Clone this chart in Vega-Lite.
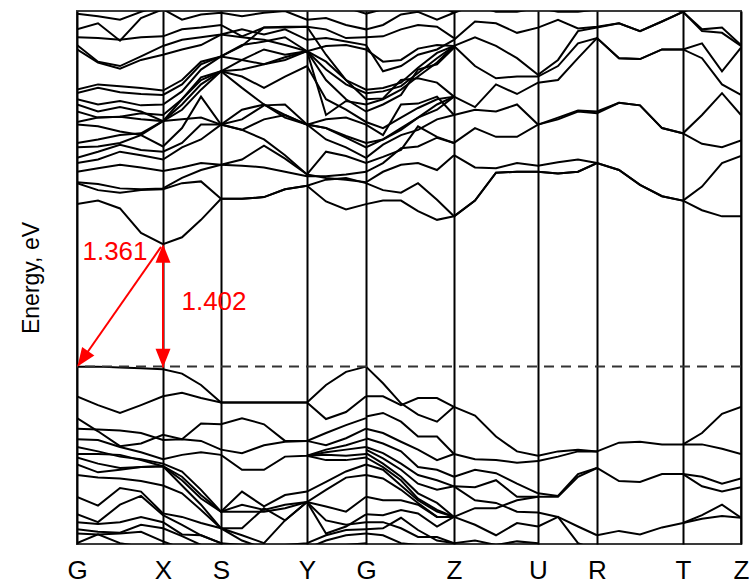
{
"$schema": "https://vega.github.io/schema/vega-lite/v6.json",
"width": 664, "height": 533,
"autosize": "none",
"padding": {"left": 77, "top": 11, "right": 8, "bottom": 42},
"background": "white",
"config": {"view": {"stroke": "#3a3a3a", "strokeWidth": 2}, "font": "Liberation Sans"},
"datasets": {"bands": [
{"b":"C1","k":0,"e":1.86},{"b":"C1","k":0.21,"e":1.9},{"b":"C1","k":0.43,"e":1.81},{"b":"C1","k":0.64,"e":1.53},{"b":"C1","k":0.86,"e":1.402},{"b":"C1","k":1.05,"e":1.48},{"b":"C1","k":1.24,"e":1.68},{"b":"C1","k":1.44,"e":1.92},{"b":"C1","k":1.65,"e":1.92},{"b":"C1","k":1.87,"e":1.94},{"b":"C1","k":2.08,"e":2.03},{"b":"C1","k":2.3,"e":2.07},{"b":"C1","k":2.49,"e":1.89},{"b":"C1","k":2.69,"e":1.8},{"b":"C1","k":2.89,"e":1.86},{"b":"C1","k":3.06,"e":1.9},{"b":"C1","k":3.24,"e":1.9},{"b":"C1","k":3.41,"e":1.78},{"b":"C1","k":3.6,"e":1.68},{"b":"C1","k":3.77,"e":1.72},
{"b":"C2","k":0,"e":2.1},{"b":"C2","k":0.21,"e":2.02},{"b":"C2","k":0.43,"e":1.99},{"b":"C2","k":0.64,"e":2.02},{"b":"C2","k":0.86,"e":2.03},{"b":"C2","k":1.05,"e":2.1},{"b":"C2","k":1.24,"e":2.12},{"b":"C2","k":1.44,"e":1.92},{"b":"C2","k":1.65,"e":1.92},{"b":"C2","k":1.87,"e":1.94},{"b":"C2","k":2.08,"e":2.03},{"b":"C2","k":2.3,"e":2.07},{"b":"C2","k":2.49,"e":2.14},{"b":"C2","k":2.69,"e":2.16},{"b":"C2","k":2.89,"e":2.1},{"b":"C2","k":3.06,"e":2.02},{"b":"C2","k":3.24,"e":1.99},{"b":"C2","k":3.41,"e":2.1},{"b":"C2","k":3.6,"e":1.91},{"b":"C2","k":3.77,"e":1.72},
{"b":"C3","k":0,"e":2.11},{"b":"C3","k":0.21,"e":2.09},{"b":"C3","k":0.43,"e":2.04},{"b":"C3","k":0.64,"e":2.03},{"b":"C3","k":0.86,"e":2.04},{"b":"C3","k":1.05,"e":2.16},{"b":"C3","k":1.24,"e":2.25},{"b":"C3","k":1.44,"e":2.31},{"b":"C3","k":1.65,"e":2.37},{"b":"C3","k":1.87,"e":2.53},{"b":"C3","k":2.08,"e":2.38},{"b":"C3","k":2.3,"e":2.2},{"b":"C3","k":2.49,"e":2.16},{"b":"C3","k":2.69,"e":2.14},{"b":"C3","k":2.89,"e":2.11},{"b":"C3","k":3.06,"e":2.23},{"b":"C3","k":3.24,"e":2.31},{"b":"C3","k":3.41,"e":2.33},{"b":"C3","k":3.6,"e":2.25},{"b":"C3","k":3.77,"e":2.42},
{"b":"C4","k":0,"e":2.23},{"b":"C4","k":0.21,"e":2.27},{"b":"C4","k":0.43,"e":2.31},{"b":"C4","k":0.64,"e":2.28},{"b":"C4","k":0.86,"e":2.24},{"b":"C4","k":1.05,"e":2.28},{"b":"C4","k":1.24,"e":2.33},{"b":"C4","k":1.44,"e":2.31},{"b":"C4","k":1.65,"e":2.3},{"b":"C4","k":1.87,"e":2.28},{"b":"C4","k":2.08,"e":2.23},{"b":"C4","k":2.3,"e":2.18},{"b":"C4","k":2.49,"e":2.18},{"b":"C4","k":2.69,"e":2.2},{"b":"C4","k":2.89,"e":2.23},{"b":"C4","k":3.06,"e":2.33},{"b":"C4","k":3.24,"e":2.5},{"b":"C4","k":3.41,"e":2.52},{"b":"C4","k":3.6,"e":2.62},{"b":"C4","k":3.77,"e":2.56},
{"b":"C5","k":0,"e":2.33},{"b":"C5","k":0.21,"e":2.37},{"b":"C5","k":0.43,"e":2.46},{"b":"C5","k":0.64,"e":2.42},{"b":"C5","k":0.86,"e":2.37},{"b":"C5","k":1.05,"e":2.51},{"b":"C5","k":1.24,"e":2.6},{"b":"C5","k":1.44,"e":2.77},{"b":"C5","k":1.65,"e":2.71},{"b":"C5","k":1.87,"e":2.6},{"b":"C5","k":2.08,"e":2.42},{"b":"C5","k":2.3,"e":2.2},{"b":"C5","k":2.49,"e":2.46},{"b":"C5","k":2.69,"e":2.41},{"b":"C5","k":2.89,"e":2.33},{"b":"C5","k":3.06,"e":2.4},{"b":"C5","k":3.24,"e":2.48},{"b":"C5","k":3.41,"e":2.75},{"b":"C5","k":3.6,"e":2.63},{"b":"C5","k":3.77,"e":2.56},
{"b":"C6","k":0,"e":2.39},{"b":"C6","k":0.21,"e":2.46},{"b":"C6","k":0.43,"e":2.54},{"b":"C6","k":0.64,"e":2.48},{"b":"C6","k":0.86,"e":2.46},{"b":"C6","k":1.05,"e":2.56},{"b":"C6","k":1.24,"e":2.77},{"b":"C6","k":1.44,"e":2.77},{"b":"C6","k":1.65,"e":2.83},{"b":"C6","k":1.87,"e":2.99},{"b":"C6","k":2.08,"e":3.0},{"b":"C6","k":2.3,"e":2.77},{"b":"C6","k":2.49,"e":2.6},{"b":"C6","k":2.69,"e":2.51},{"b":"C6","k":2.89,"e":2.39},{"b":"C6","k":3.06,"e":2.54},{"b":"C6","k":3.24,"e":2.65},{"b":"C6","k":3.41,"e":2.71},{"b":"C6","k":3.6,"e":2.83},{"b":"C6","k":3.77,"e":2.88},
{"b":"C7","k":0,"e":2.51},{"b":"C7","k":0.21,"e":2.52},{"b":"C7","k":0.43,"e":2.56},{"b":"C7","k":0.64,"e":2.65},{"b":"C7","k":0.86,"e":2.52},{"b":"C7","k":1.05,"e":2.73},{"b":"C7","k":1.24,"e":3.09},{"b":"C7","k":1.44,"e":2.77},{"b":"C7","k":1.65,"e":2.94},{"b":"C7","k":1.87,"e":3.0},{"b":"C7","k":2.08,"e":2.85},{"b":"C7","k":2.3,"e":2.77},{"b":"C7","k":2.49,"e":2.73},{"b":"C7","k":2.69,"e":2.62},{"b":"C7","k":2.89,"e":2.51},{"b":"C7","k":3.06,"e":2.6},{"b":"C7","k":3.24,"e":2.73},{"b":"C7","k":3.41,"e":2.85},{"b":"C7","k":3.6,"e":3.0},{"b":"C7","k":3.77,"e":3.09},
{"b":"C8","k":0,"e":2.56},{"b":"C8","k":0.21,"e":2.6},{"b":"C8","k":0.43,"e":2.65},{"b":"C8","k":0.64,"e":2.67},{"b":"C8","k":0.86,"e":2.81},{"b":"C8","k":1.05,"e":2.83},{"b":"C8","k":1.24,"e":2.85},{"b":"C8","k":1.44,"e":2.77},{"b":"C8","k":1.65,"e":2.71},{"b":"C8","k":1.87,"e":2.83},{"b":"C8","k":2.08,"e":2.88},{"b":"C8","k":2.3,"e":2.77},{"b":"C8","k":2.49,"e":2.73},{"b":"C8","k":2.69,"e":2.64},{"b":"C8","k":2.89,"e":2.56},{"b":"C8","k":3.06,"e":2.6},{"b":"C8","k":3.24,"e":2.71},{"b":"C8","k":3.41,"e":2.85},{"b":"C8","k":3.6,"e":2.94},{"b":"C8","k":3.77,"e":3.09},
{"b":"C9","k":0,"e":2.77},{"b":"C9","k":0.21,"e":2.75},{"b":"C9","k":0.43,"e":2.69},{"b":"C9","k":0.64,"e":2.65},{"b":"C9","k":0.86,"e":2.81},{"b":"C9","k":1.05,"e":2.94},{"b":"C9","k":1.24,"e":3.17},{"b":"C9","k":1.44,"e":3.38},{"b":"C9","k":1.65,"e":3.19},{"b":"C9","k":1.87,"e":3.0},{"b":"C9","k":2.08,"e":2.88},{"b":"C9","k":2.3,"e":2.77},{"b":"C9","k":2.49,"e":2.83},{"b":"C9","k":2.69,"e":2.85},{"b":"C9","k":2.89,"e":2.77},{"b":"C9","k":3.06,"e":2.65},{"b":"C9","k":3.24,"e":3.0},{"b":"C9","k":3.41,"e":3.01},{"b":"C9","k":3.6,"e":3.09},{"b":"C9","k":3.77,"e":2.88},
{"b":"C10","k":0,"e":2.8},{"b":"C10","k":0.21,"e":2.85},{"b":"C10","k":0.43,"e":2.86},{"b":"C10","k":0.64,"e":2.83},{"b":"C10","k":0.86,"e":2.81},{"b":"C10","k":1.05,"e":3.0},{"b":"C10","k":1.24,"e":3.23},{"b":"C10","k":1.44,"e":3.38},{"b":"C10","k":1.65,"e":3.32},{"b":"C10","k":1.87,"e":3.19},{"b":"C10","k":2.08,"e":3.32},{"b":"C10","k":2.3,"e":3.44},{"b":"C10","k":2.49,"e":3.06},{"b":"C10","k":2.69,"e":2.94},{"b":"C10","k":2.89,"e":2.8},{"b":"C10","k":3.06,"e":2.73},{"b":"C10","k":3.24,"e":2.85},{"b":"C10","k":3.41,"e":2.96},{"b":"C10","k":3.6,"e":3.06},{"b":"C10","k":3.77,"e":3.09},
{"b":"C11","k":0,"e":2.92},{"b":"C11","k":0.21,"e":2.85},{"b":"C11","k":0.43,"e":2.86},{"b":"C11","k":0.64,"e":2.9},{"b":"C11","k":0.86,"e":2.88},{"b":"C11","k":1.05,"e":3.06},{"b":"C11","k":1.24,"e":3.28},{"b":"C11","k":1.44,"e":3.38},{"b":"C11","k":1.65,"e":3.4},{"b":"C11","k":1.87,"e":3.46},{"b":"C11","k":2.08,"e":3.51},{"b":"C11","k":2.3,"e":3.61},{"b":"C11","k":2.49,"e":3.28},{"b":"C11","k":2.69,"e":3.06},{"b":"C11","k":2.89,"e":2.92},{"b":"C11","k":3.06,"e":3.0},{"b":"C11","k":3.24,"e":3.11},{"b":"C11","k":3.41,"e":3.4},{"b":"C11","k":3.6,"e":3.46},{"b":"C11","k":3.77,"e":3.65},
{"b":"C12","k":0,"e":3.0},{"b":"C12","k":0.21,"e":2.92},{"b":"C12","k":0.43,"e":2.97},{"b":"C12","k":0.64,"e":2.92},{"b":"C12","k":0.86,"e":2.81},{"b":"C12","k":1.05,"e":3.06},{"b":"C12","k":1.24,"e":3.31},{"b":"C12","k":1.44,"e":3.38},{"b":"C12","k":1.65,"e":3.51},{"b":"C12","k":1.87,"e":3.63},{"b":"C12","k":2.08,"e":3.57},{"b":"C12","k":2.3,"e":3.61},{"b":"C12","k":2.49,"e":2.88},{"b":"C12","k":2.69,"e":3.04},{"b":"C12","k":2.89,"e":3.0},{"b":"C12","k":3.06,"e":3.06},{"b":"C12","k":3.24,"e":3.17},{"b":"C12","k":3.41,"e":3.32},{"b":"C12","k":3.6,"e":3.48},{"b":"C12","k":3.77,"e":3.67},
{"b":"C13","k":0,"e":3.06},{"b":"C13","k":0.21,"e":3.0},{"b":"C13","k":0.43,"e":3.04},{"b":"C13","k":0.64,"e":2.99},{"b":"C13","k":0.86,"e":3.0},{"b":"C13","k":1.05,"e":3.15},{"b":"C13","k":1.24,"e":3.4},{"b":"C13","k":1.44,"e":3.55},{"b":"C13","k":1.65,"e":3.67},{"b":"C13","k":1.87,"e":3.88},{"b":"C13","k":2.08,"e":3.88},{"b":"C13","k":2.3,"e":3.89},{"b":"C13","k":2.49,"e":3.57},{"b":"C13","k":2.69,"e":3.28},{"b":"C13","k":2.89,"e":3.06},{"b":"C13","k":3.06,"e":3.07},{"b":"C13","k":3.24,"e":3.28},{"b":"C13","k":3.41,"e":3.3},{"b":"C13","k":3.6,"e":3.25},{"b":"C13","k":3.77,"e":3.09},
{"b":"C14","k":0,"e":3.13},{"b":"C14","k":0.21,"e":3.19},{"b":"C14","k":0.43,"e":3.14},{"b":"C14","k":0.64,"e":3.12},{"b":"C14","k":0.86,"e":3.11},{"b":"C14","k":1.05,"e":3.23},{"b":"C14","k":1.24,"e":3.46},{"b":"C14","k":1.44,"e":3.55},{"b":"C14","k":1.65,"e":3.68},{"b":"C14","k":1.87,"e":3.72},{"b":"C14","k":2.08,"e":3.77},{"b":"C14","k":2.3,"e":3.61},{"b":"C14","k":2.49,"e":3.4},{"b":"C14","k":2.69,"e":3.23},{"b":"C14","k":2.89,"e":3.13},{"b":"C14","k":3.06,"e":3.15},{"b":"C14","k":3.24,"e":3.21},{"b":"C14","k":3.41,"e":3.36},{"b":"C14","k":3.6,"e":3.53},{"b":"C14","k":3.77,"e":3.67},
{"b":"C15","k":0,"e":3.17},{"b":"C15","k":0.21,"e":3.23},{"b":"C15","k":0.43,"e":3.21},{"b":"C15","k":0.64,"e":3.19},{"b":"C15","k":0.86,"e":3.16},{"b":"C15","k":1.05,"e":3.28},{"b":"C15","k":1.24,"e":3.49},{"b":"C15","k":1.44,"e":3.55},{"b":"C15","k":1.65,"e":3.51},{"b":"C15","k":1.87,"e":3.46},{"b":"C15","k":2.08,"e":3.54},{"b":"C15","k":2.3,"e":3.61},{"b":"C15","k":2.49,"e":3.49},{"b":"C15","k":2.69,"e":3.28},{"b":"C15","k":2.89,"e":3.17},{"b":"C15","k":3.06,"e":3.19},{"b":"C15","k":3.24,"e":3.25},{"b":"C15","k":3.41,"e":3.42},{"b":"C15","k":3.6,"e":3.59},{"b":"C15","k":3.77,"e":3.67},
{"b":"C16","k":0,"e":3.63},{"b":"C16","k":0.21,"e":3.48},{"b":"C16","k":0.43,"e":3.41},{"b":"C16","k":0.64,"e":3.51},{"b":"C16","k":0.86,"e":3.57},{"b":"C16","k":1.05,"e":3.63},{"b":"C16","k":1.24,"e":3.68},{"b":"C16","k":1.44,"e":3.8},{"b":"C16","k":1.65,"e":3.77},{"b":"C16","k":1.87,"e":3.74},{"b":"C16","k":2.08,"e":3.68},{"b":"C16","k":2.3,"e":3.61},{"b":"C16","k":2.49,"e":3.67},{"b":"C16","k":2.69,"e":3.68},{"b":"C16","k":2.89,"e":3.63},{"b":"C16","k":3.06,"e":3.49},{"b":"C16","k":3.24,"e":3.51},{"b":"C16","k":3.41,"e":3.64},{"b":"C16","k":3.6,"e":3.68},{"b":"C16","k":3.77,"e":3.67},
{"b":"C17","k":0,"e":3.68},{"b":"C17","k":0.21,"e":3.49},{"b":"C17","k":0.43,"e":3.44},{"b":"C17","k":0.64,"e":3.55},{"b":"C17","k":0.86,"e":3.67},{"b":"C17","k":1.05,"e":3.74},{"b":"C17","k":1.24,"e":3.77},{"b":"C17","k":1.44,"e":3.8},{"b":"C17","k":1.65,"e":3.86},{"b":"C17","k":1.87,"e":3.8},{"b":"C17","k":2.08,"e":3.86},{"b":"C17","k":2.3,"e":3.74},{"b":"C17","k":2.49,"e":3.76},{"b":"C17","k":2.69,"e":3.72},{"b":"C17","k":2.89,"e":3.68},{"b":"C17","k":3.06,"e":3.38},{"b":"C17","k":3.24,"e":3.44},{"b":"C17","k":3.41,"e":3.57},{"b":"C17","k":3.6,"e":3.63},{"b":"C17","k":3.77,"e":3.74},
{"b":"C18","k":0,"e":3.77},{"b":"C18","k":0.21,"e":3.76},{"b":"C18","k":0.43,"e":3.74},{"b":"C18","k":0.64,"e":3.77},{"b":"C18","k":0.86,"e":3.78},{"b":"C18","k":1.05,"e":3.86},{"b":"C18","k":1.24,"e":3.88},{"b":"C18","k":1.44,"e":3.91},{"b":"C18","k":1.65,"e":3.78},{"b":"C18","k":1.87,"e":3.88},{"b":"C18","k":2.08,"e":3.89},{"b":"C18","k":2.3,"e":3.89},{"b":"C18","k":2.49,"e":3.86},{"b":"C18","k":2.69,"e":3.76},{"b":"C18","k":2.89,"e":3.77},{"b":"C18","k":3.06,"e":3.78},{"b":"C18","k":3.24,"e":3.86},{"b":"C18","k":3.41,"e":3.91},{"b":"C18","k":3.6,"e":3.89},{"b":"C18","k":3.77,"e":3.76},
{"b":"C19","k":0,"e":3.86},{"b":"C19","k":0.21,"e":3.93},{"b":"C19","k":0.43,"e":3.73},{"b":"C19","k":0.64,"e":3.99},{"b":"C19","k":0.86,"e":4.09},{"b":"C19","k":1.05,"e":3.97},{"b":"C19","k":1.24,"e":4.03},{"b":"C19","k":1.44,"e":4.05},{"b":"C19","k":1.65,"e":4.01},{"b":"C19","k":1.87,"e":4.05},{"b":"C19","k":2.08,"e":4.07},{"b":"C19","k":2.3,"e":3.97},{"b":"C19","k":2.49,"e":3.99},{"b":"C19","k":2.69,"e":3.91},{"b":"C19","k":2.89,"e":3.86},{"b":"C19","k":3.06,"e":3.91},{"b":"C19","k":3.24,"e":4.03},{"b":"C19","k":3.41,"e":4.06},{"b":"C19","k":3.6,"e":3.97},{"b":"C19","k":3.77,"e":4.05},
{"b":"C20","k":0,"e":4.04},{"b":"C20","k":0.21,"e":4.01},{"b":"C20","k":0.43,"e":3.97},{"b":"C20","k":0.64,"e":4.06},{"b":"C20","k":0.86,"e":4.14},{"b":"C20","k":1.05,"e":4.11},{"b":"C20","k":1.24,"e":4.14},{"b":"C20","k":1.44,"e":4.11},{"b":"C20","k":1.65,"e":4.14},{"b":"C20","k":1.87,"e":4.11},{"b":"C20","k":2.08,"e":4.09},{"b":"C20","k":2.3,"e":4.11},{"b":"C20","k":2.49,"e":4.14},{"b":"C20","k":2.69,"e":4.11},{"b":"C20","k":2.89,"e":4.04},{"b":"C20","k":3.06,"e":4.09},{"b":"C20","k":3.24,"e":4.14},{"b":"C20","k":3.41,"e":4.17},{"b":"C20","k":3.6,"e":4.14},{"b":"C20","k":3.77,"e":4.05},
{"b":"R1","k":3.77,"e":1.72},{"b":"R1","k":3.98,"e":1.9},{"b":"R1","k":4.19,"e":2.22},{"b":"R1","k":4.4,"e":2.23},{"b":"R1","k":4.61,"e":2.23},{"b":"R1","k":4.81,"e":2.21},{"b":"R1","k":5.01,"e":2.23},{"b":"R1","k":5.2,"e":2.33},{"b":"R1","k":5.42,"e":2.25},{"b":"R1","k":5.63,"e":2.08},{"b":"R1","k":5.85,"e":1.95},{"b":"R1","k":6.06,"e":1.9},{"b":"R1","k":6.25,"e":1.79},{"b":"R1","k":6.45,"e":1.72},{"b":"R1","k":6.64,"e":1.72},
{"b":"R2","k":3.77,"e":1.72},{"b":"R2","k":3.98,"e":1.9},{"b":"R2","k":4.19,"e":2.22},{"b":"R2","k":4.4,"e":2.23},{"b":"R2","k":4.61,"e":2.23},{"b":"R2","k":4.81,"e":2.21},{"b":"R2","k":5.01,"e":2.23},{"b":"R2","k":5.2,"e":2.33},{"b":"R2","k":5.42,"e":2.25},{"b":"R2","k":5.63,"e":2.08},{"b":"R2","k":5.85,"e":1.95},{"b":"R2","k":6.06,"e":1.9},{"b":"R2","k":6.25,"e":2.06},{"b":"R2","k":6.45,"e":2.33},{"b":"R2","k":6.64,"e":2.41},
{"b":"R3","k":3.77,"e":2.42},{"b":"R3","k":3.98,"e":2.28},{"b":"R3","k":4.19,"e":2.27},{"b":"R3","k":4.4,"e":2.33},{"b":"R3","k":4.61,"e":2.3},{"b":"R3","k":4.81,"e":2.34},{"b":"R3","k":5.01,"e":2.37},{"b":"R3","k":5.2,"e":2.33},
{"b":"R4","k":3.77,"e":2.56},{"b":"R4","k":3.98,"e":2.73},{"b":"R4","k":4.19,"e":2.63},{"b":"R4","k":4.4,"e":2.63},{"b":"R4","k":4.61,"e":2.77},{"b":"R4","k":4.81,"e":2.83},{"b":"R4","k":5.01,"e":2.92},{"b":"R4","k":5.2,"e":2.9},{"b":"R4","k":5.42,"e":3.02},{"b":"R4","k":5.63,"e":2.99},{"b":"R4","k":5.85,"e":2.73},{"b":"R4","k":6.06,"e":2.67},{"b":"R4","k":6.25,"e":2.55},{"b":"R4","k":6.45,"e":2.51},{"b":"R4","k":6.64,"e":2.59},
{"b":"R5","k":3.77,"e":2.88},{"b":"R5","k":3.98,"e":2.94},{"b":"R5","k":4.19,"e":2.92},{"b":"R5","k":4.4,"e":3.0},{"b":"R5","k":4.61,"e":2.77},{"b":"R5","k":4.81,"e":2.85},{"b":"R5","k":5.01,"e":2.93},{"b":"R5","k":5.2,"e":2.92},{"b":"R5","k":5.42,"e":3.02},{"b":"R5","k":5.63,"e":2.99},{"b":"R5","k":5.85,"e":2.73},{"b":"R5","k":6.06,"e":2.67},{"b":"R5","k":6.25,"e":2.88},{"b":"R5","k":6.45,"e":3.13},{"b":"R5","k":6.64,"e":2.88},
{"b":"R6","k":3.77,"e":3.09},{"b":"R6","k":3.98,"e":2.97},{"b":"R6","k":4.19,"e":3.23},{"b":"R6","k":4.4,"e":3.12},{"b":"R6","k":4.61,"e":3.25},{"b":"R6","k":4.81,"e":3.28},{"b":"R6","k":5.01,"e":3.53},{"b":"R6","k":5.2,"e":3.76},{"b":"R6","k":5.42,"e":3.53},{"b":"R6","k":5.63,"e":3.52},{"b":"R6","k":5.85,"e":3.63},{"b":"R6","k":6.06,"e":3.63},{"b":"R6","k":6.25,"e":3.53},{"b":"R6","k":6.45,"e":3.23},{"b":"R6","k":6.64,"e":3.11},
{"b":"R7","k":3.77,"e":3.67},{"b":"R7","k":3.98,"e":3.44},{"b":"R7","k":4.19,"e":3.3},{"b":"R7","k":4.4,"e":3.32},{"b":"R7","k":4.61,"e":3.32},{"b":"R7","k":4.81,"e":3.44},{"b":"R7","k":5.01,"e":3.7},{"b":"R7","k":5.2,"e":3.76},{"b":"R7","k":5.42,"e":3.53},{"b":"R7","k":5.63,"e":3.52},{"b":"R7","k":5.85,"e":3.63},{"b":"R7","k":6.06,"e":3.63},{"b":"R7","k":6.25,"e":3.7},{"b":"R7","k":6.45,"e":3.38},{"b":"R7","k":6.64,"e":3.65},
{"b":"R8","k":3.77,"e":3.67},{"b":"R8","k":3.98,"e":3.77},{"b":"R8","k":4.19,"e":3.67},{"b":"R8","k":4.4,"e":3.53},{"b":"R8","k":4.61,"e":3.34},{"b":"R8","k":4.81,"e":3.51},{"b":"R8","k":5.01,"e":3.84},{"b":"R8","k":5.2,"e":3.88},{"b":"R8","k":5.42,"e":3.93},{"b":"R8","k":5.63,"e":3.84},{"b":"R8","k":5.85,"e":3.95},{"b":"R8","k":6.06,"e":4.06},{"b":"R8","k":6.25,"e":3.86},{"b":"R8","k":6.45,"e":3.88},{"b":"R8","k":6.64,"e":3.68},
{"b":"R9","k":3.77,"e":3.74},{"b":"R9","k":3.98,"e":3.95},{"b":"R9","k":4.19,"e":3.93},{"b":"R9","k":4.4,"e":3.82},{"b":"R9","k":4.61,"e":3.88},{"b":"R9","k":4.81,"e":3.97},{"b":"R9","k":5.01,"e":3.87},{"b":"R9","k":5.2,"e":3.89},{"b":"R9","k":5.42,"e":3.93},{"b":"R9","k":5.63,"e":3.84},{"b":"R9","k":5.85,"e":3.95},{"b":"R9","k":6.06,"e":4.06},{"b":"R9","k":6.25,"e":3.84},{"b":"R9","k":6.45,"e":3.82},{"b":"R9","k":6.64,"e":3.67},
{"b":"R10","k":3.77,"e":4.05},{"b":"R10","k":3.98,"e":4.14},{"b":"R10","k":4.19,"e":4.06},{"b":"R10","k":4.4,"e":4.06},{"b":"R10","k":4.61,"e":4.11},{"b":"R10","k":4.81,"e":4.06},{"b":"R10","k":5.01,"e":4.06},{"b":"R10","k":5.2,"e":4.09},{"b":"R10","k":5.42,"e":4.14},{"b":"R10","k":5.63,"e":4.17},{"b":"R10","k":5.85,"e":4.14},{"b":"R10","k":6.06,"e":4.06},{"b":"R10","k":6.25,"e":4.14},{"b":"R10","k":6.45,"e":4.17},{"b":"R10","k":6.64,"e":4.2},
{"b":"V1","k":0,"e":0},{"b":"V1","k":0.21,"e":0},{"b":"V1","k":0.43,"e":-0.01},{"b":"V1","k":0.64,"e":-0.02},{"b":"V1","k":0.86,"e":-0.03},{"b":"V1","k":1.05,"e":-0.08},{"b":"V1","k":1.24,"e":-0.21},{"b":"V1","k":1.44,"e":-0.41},{"b":"V1","k":1.65,"e":-0.41},{"b":"V1","k":1.87,"e":-0.41},{"b":"V1","k":2.08,"e":-0.41},{"b":"V1","k":2.3,"e":-0.41},{"b":"V1","k":2.49,"e":-0.21},{"b":"V1","k":2.69,"e":-0.06},{"b":"V1","k":2.89,"e":0},
{"b":"V2","k":0,"e":-0.34},{"b":"V2","k":0.21,"e":-0.44},{"b":"V2","k":0.43,"e":-0.53},{"b":"V2","k":0.64,"e":-0.44},{"b":"V2","k":0.86,"e":-0.34},{"b":"V2","k":1.05,"e":-0.3},{"b":"V2","k":1.24,"e":-0.36},{"b":"V2","k":1.44,"e":-0.41},{"b":"V2","k":2.3,"e":-0.41},{"b":"V2","k":2.49,"e":-0.6},{"b":"V2","k":2.69,"e":-0.52},{"b":"V2","k":2.89,"e":-0.34},
{"b":"V3","k":0,"e":-0.59},{"b":"V3","k":0.21,"e":-0.74},{"b":"V3","k":0.43,"e":-0.91},{"b":"V3","k":0.64,"e":-0.88},{"b":"V3","k":0.86,"e":-0.78},{"b":"V3","k":1.05,"e":-0.83},{"b":"V3","k":1.24,"e":-0.65},{"b":"V3","k":1.44,"e":-0.66},{"b":"V3","k":1.65,"e":-0.59},{"b":"V3","k":1.87,"e":-0.66},{"b":"V3","k":2.08,"e":-0.85},{"b":"V3","k":2.3,"e":-0.85},{"b":"V3","k":2.49,"e":-0.76},{"b":"V3","k":2.69,"e":-0.67},{"b":"V3","k":2.89,"e":-0.59},
{"b":"V4","k":0,"e":-0.71},{"b":"V4","k":0.21,"e":-0.72},{"b":"V4","k":0.43,"e":-0.73},{"b":"V4","k":0.64,"e":-0.76},{"b":"V4","k":0.86,"e":-0.84},{"b":"V4","k":1.05,"e":-0.83},{"b":"V4","k":1.24,"e":-0.85},{"b":"V4","k":1.44,"e":-0.95},{"b":"V4","k":1.65,"e":-0.99},{"b":"V4","k":1.87,"e":-0.9},{"b":"V4","k":2.08,"e":-0.86},{"b":"V4","k":2.3,"e":-0.85},{"b":"V4","k":2.49,"e":-0.9},{"b":"V4","k":2.69,"e":-0.82},{"b":"V4","k":2.89,"e":-0.71},
{"b":"V5","k":0,"e":-0.83},{"b":"V5","k":0.21,"e":-0.84},{"b":"V5","k":0.43,"e":-0.92},{"b":"V5","k":0.64,"e":-0.98},{"b":"V5","k":0.86,"e":-1.06},{"b":"V5","k":1.05,"e":-1.01},{"b":"V5","k":1.24,"e":-0.98},{"b":"V5","k":1.44,"e":-1.01},{"b":"V5","k":1.65,"e":-1.18},{"b":"V5","k":1.87,"e":-1.18},{"b":"V5","k":2.08,"e":-1.03},{"b":"V5","k":2.3,"e":-1.02},{"b":"V5","k":2.49,"e":-0.95},{"b":"V5","k":2.69,"e":-0.9},{"b":"V5","k":2.89,"e":-0.83},
{"b":"V6","k":0,"e":-0.92},{"b":"V6","k":0.21,"e":-0.97},{"b":"V6","k":0.43,"e":-1.03},{"b":"V6","k":0.64,"e":-1.06},{"b":"V6","k":0.86,"e":-1.11},{"b":"V6","k":1.05,"e":-1.2},{"b":"V6","k":1.24,"e":-1.41},{"b":"V6","k":1.44,"e":-1.66},{"b":"V6","k":1.65,"e":-1.43},{"b":"V6","k":1.87,"e":-1.6},{"b":"V6","k":2.08,"e":-1.47},{"b":"V6","k":2.3,"e":-1.43},{"b":"V6","k":2.49,"e":-1.32},{"b":"V6","k":2.69,"e":-1.2},{"b":"V6","k":2.89,"e":-1.12},
{"b":"V7","k":0,"e":-1.0},{"b":"V7","k":0.21,"e":-1.0},{"b":"V7","k":0.43,"e":-1.01},{"b":"V7","k":0.64,"e":-1.07},{"b":"V7","k":0.86,"e":-1.14},{"b":"V7","k":1.05,"e":-1.26},{"b":"V7","k":1.24,"e":-1.47},{"b":"V7","k":1.44,"e":-1.66},{"b":"V7","k":1.65,"e":-1.58},{"b":"V7","k":1.87,"e":-1.64},{"b":"V7","k":2.08,"e":-1.58},{"b":"V7","k":2.3,"e":-1.55},{"b":"V7","k":2.49,"e":-1.41},{"b":"V7","k":2.69,"e":-1.27},{"b":"V7","k":2.89,"e":-1.24},
{"b":"V8","k":0,"e":-1.04},{"b":"V8","k":0.21,"e":-1.11},{"b":"V8","k":0.43,"e":-1.16},{"b":"V8","k":0.64,"e":-1.15},{"b":"V8","k":0.86,"e":-1.14},{"b":"V8","k":1.05,"e":-1.3},{"b":"V8","k":1.24,"e":-1.51},{"b":"V8","k":1.44,"e":-1.66},{"b":"V8","k":1.65,"e":-1.66},{"b":"V8","k":1.87,"e":-1.66},{"b":"V8","k":2.08,"e":-1.62},{"b":"V8","k":2.3,"e":-1.55},{"b":"V8","k":2.49,"e":-1.6},{"b":"V8","k":2.69,"e":-1.66},{"b":"V8","k":2.89,"e":-1.49},
{"b":"V9","k":0,"e":-1.12},{"b":"V9","k":0.21,"e":-1.21},{"b":"V9","k":0.43,"e":-1.18},{"b":"V9","k":0.64,"e":-1.15},{"b":"V9","k":0.86,"e":-1.14},{"b":"V9","k":1.05,"e":-1.36},{"b":"V9","k":1.24,"e":-1.58},{"b":"V9","k":1.44,"e":-1.85},{"b":"V9","k":1.65,"e":-1.85},{"b":"V9","k":1.87,"e":-1.62},{"b":"V9","k":2.08,"e":-1.76},{"b":"V9","k":2.3,"e":-1.55},{"b":"V9","k":2.49,"e":-1.91},{"b":"V9","k":2.69,"e":-1.83},{"b":"V9","k":2.89,"e":-1.69},
{"b":"V10","k":0,"e":-1.24},{"b":"V10","k":0.21,"e":-1.27},{"b":"V10","k":0.43,"e":-1.28},{"b":"V10","k":0.64,"e":-1.31},{"b":"V10","k":0.86,"e":-1.36},{"b":"V10","k":1.05,"e":-1.45},{"b":"V10","k":1.24,"e":-1.64},{"b":"V10","k":1.44,"e":-1.85},{"b":"V10","k":1.65,"e":-1.93},{"b":"V10","k":1.87,"e":-2.02},{"b":"V10","k":2.08,"e":-1.76},{"b":"V10","k":2.3,"e":-1.55},{"b":"V10","k":2.49,"e":-1.76},{"b":"V10","k":2.69,"e":-1.81},{"b":"V10","k":2.89,"e":-1.78},
{"b":"V11","k":0,"e":-1.49},{"b":"V11","k":0.21,"e":-1.59},{"b":"V11","k":0.43,"e":-1.39},{"b":"V11","k":0.64,"e":-1.43},{"b":"V11","k":0.86,"e":-1.68},{"b":"V11","k":1.05,"e":-1.72},{"b":"V11","k":1.24,"e":-1.79},{"b":"V11","k":1.44,"e":-1.85},{"b":"V11","k":1.65,"e":-1.99},{"b":"V11","k":1.87,"e":-2.08},{"b":"V11","k":2.08,"e":-2.04},{"b":"V11","k":2.3,"e":-2.02},{"b":"V11","k":2.49,"e":-1.93},{"b":"V11","k":2.69,"e":-1.87},{"b":"V11","k":2.89,"e":-1.86},
{"b":"V12","k":0,"e":-1.69},{"b":"V12","k":0.21,"e":-1.78},{"b":"V12","k":0.43,"e":-1.58},{"b":"V12","k":0.64,"e":-1.48},{"b":"V12","k":0.86,"e":-1.7},{"b":"V12","k":1.05,"e":-1.81},{"b":"V12","k":1.24,"e":-1.93},{"b":"V12","k":1.44,"e":-2.02},{"b":"V12","k":1.65,"e":-2.04},{"b":"V12","k":1.87,"e":-2.1},{"b":"V12","k":2.08,"e":-2.08},{"b":"V12","k":2.3,"e":-2.08},{"b":"V12","k":2.49,"e":-1.99},{"b":"V12","k":2.69,"e":-1.93},{"b":"V12","k":2.89,"e":-1.91},
{"b":"V13","k":0,"e":-1.78},{"b":"V13","k":0.21,"e":-1.8},{"b":"V13","k":0.43,"e":-1.78},{"b":"V13","k":0.64,"e":-1.72},{"b":"V13","k":0.86,"e":-1.78},{"b":"V13","k":1.05,"e":-1.92},{"b":"V13","k":1.24,"e":-1.93},{"b":"V13","k":1.44,"e":-2.02},{"b":"V13","k":1.65,"e":-2.1},{"b":"V13","k":1.87,"e":-2.16},{"b":"V13","k":2.08,"e":-2.12},{"b":"V13","k":2.3,"e":-2.12},{"b":"V13","k":2.49,"e":-2.08},{"b":"V13","k":2.69,"e":-2.04},{"b":"V13","k":2.89,"e":-2.02},
{"b":"V14","k":0,"e":-1.86},{"b":"V14","k":0.21,"e":-1.89},{"b":"V14","k":0.43,"e":-1.9},{"b":"V14","k":0.64,"e":-1.81},{"b":"V14","k":0.86,"e":-1.85},{"b":"V14","k":1.05,"e":-1.94},{"b":"V14","k":1.24,"e":-2.04},{"b":"V14","k":1.44,"e":-2.1},{"b":"V14","k":1.65,"e":-2.16},{"b":"V14","k":1.87,"e":-2.21},{"b":"V14","k":2.08,"e":-2.17},{"b":"V14","k":2.3,"e":-2.17},{"b":"V14","k":2.49,"e":-2.16},{"b":"V14","k":2.69,"e":-2.12},{"b":"V14","k":2.89,"e":-2.1},
{"b":"V15","k":0,"e":-1.91},{"b":"V15","k":0.21,"e":-1.92},{"b":"V15","k":0.43,"e":-1.91},{"b":"V15","k":0.64,"e":-1.89},{"b":"V15","k":0.86,"e":-2.0},{"b":"V15","k":1.05,"e":-2.08},{"b":"V15","k":1.24,"e":-2.1},{"b":"V15","k":1.44,"e":-2.16},{"b":"V15","k":2.89,"e":-2.16},
{"b":"V16","k":0,"e":-2.02},{"b":"V16","k":0.21,"e":-1.92},{"b":"V16","k":0.43,"e":-2.02},{"b":"V16","k":0.64,"e":-2.06},{"b":"V16","k":0.86,"e":-2.1},
{"b":"V17","k":2.3,"e":-1.02},{"b":"V17","k":2.49,"e":-0.98},{"b":"V17","k":2.69,"e":-0.95},{"b":"V17","k":2.89,"e":-0.92},
{"b":"V18","k":2.3,"e":-1.02},{"b":"V18","k":2.49,"e":-1.01},{"b":"V18","k":2.69,"e":-1.02},{"b":"V18","k":2.89,"e":-1.0},
{"b":"V19","k":2.3,"e":-1.02},{"b":"V19","k":2.49,"e":-1.07},{"b":"V19","k":2.69,"e":-1.07},{"b":"V19","k":2.89,"e":-1.04},
{"b":"W1","k":2.89,"e":0},{"b":"W1","k":3.06,"e":-0.19},{"b":"W1","k":3.24,"e":-0.42},{"b":"W1","k":3.41,"e":-0.55},{"b":"W1","k":3.6,"e":-0.63},{"b":"W1","k":3.77,"e":-0.46},
{"b":"W2","k":2.89,"e":-0.34},{"b":"W2","k":3.06,"e":-0.34},{"b":"W2","k":3.24,"e":-0.44},{"b":"W2","k":3.41,"e":-0.36},{"b":"W2","k":3.6,"e":-0.36},{"b":"W2","k":3.77,"e":-0.46},
{"b":"W3","k":2.89,"e":-0.57},{"b":"W3","k":3.06,"e":-0.53},{"b":"W3","k":3.24,"e":-0.63},{"b":"W3","k":3.41,"e":-0.8},{"b":"W3","k":3.6,"e":-0.8},{"b":"W3","k":3.77,"e":-1.0},
{"b":"W4","k":2.89,"e":-0.71},{"b":"W4","k":3.06,"e":-0.76},{"b":"W4","k":3.24,"e":-0.86},{"b":"W4","k":3.41,"e":-0.95},{"b":"W4","k":3.6,"e":-1.07},{"b":"W4","k":3.77,"e":-1.0},
{"b":"W5","k":2.89,"e":-0.82},{"b":"W5","k":3.06,"e":-0.88},{"b":"W5","k":3.24,"e":-0.97},{"b":"W5","k":3.41,"e":-1.15},{"b":"W5","k":3.6,"e":-1.18},{"b":"W5","k":3.77,"e":-1.26},
{"b":"W6","k":2.89,"e":-0.92},{"b":"W6","k":3.06,"e":-0.99},{"b":"W6","k":3.24,"e":-1.11},{"b":"W6","k":3.41,"e":-1.24},{"b":"W6","k":3.6,"e":-1.3},{"b":"W6","k":3.77,"e":-1.37},
{"b":"W7","k":2.89,"e":-0.95},{"b":"W7","k":3.06,"e":-1.05},{"b":"W7","k":3.24,"e":-1.18},{"b":"W7","k":3.41,"e":-1.34},{"b":"W7","k":3.6,"e":-1.41},{"b":"W7","k":3.77,"e":-1.37},
{"b":"W8","k":2.89,"e":-0.99},{"b":"W8","k":3.06,"e":-1.11},{"b":"W8","k":3.24,"e":-1.26},{"b":"W8","k":3.41,"e":-1.45},{"b":"W8","k":3.6,"e":-1.56},{"b":"W8","k":3.77,"e":-1.72},
{"b":"W9","k":2.89,"e":-1.04},{"b":"W9","k":3.06,"e":-1.15},{"b":"W9","k":3.24,"e":-1.3},{"b":"W9","k":3.41,"e":-1.51},{"b":"W9","k":3.6,"e":-1.64},{"b":"W9","k":3.77,"e":-1.72},
{"b":"W10","k":2.89,"e":-1.12},{"b":"W10","k":3.06,"e":-1.18},{"b":"W10","k":3.24,"e":-1.36},{"b":"W10","k":3.41,"e":-1.53},{"b":"W10","k":3.6,"e":-1.66},{"b":"W10","k":3.77,"e":-1.72},
{"b":"W11","k":2.89,"e":-1.24},{"b":"W11","k":3.06,"e":-1.28},{"b":"W11","k":3.24,"e":-1.41},{"b":"W11","k":3.41,"e":-1.56},{"b":"W11","k":3.6,"e":-1.72},{"b":"W11","k":3.77,"e":-1.72},
{"b":"W12","k":2.89,"e":-1.49},{"b":"W12","k":3.06,"e":-1.53},{"b":"W12","k":3.24,"e":-1.53},{"b":"W12","k":3.41,"e":-1.58},{"b":"W12","k":3.6,"e":-1.72},{"b":"W12","k":3.77,"e":-1.72},
{"b":"W13","k":2.89,"e":-1.69},{"b":"W13","k":3.06,"e":-1.7},{"b":"W13","k":3.24,"e":-1.64},{"b":"W13","k":3.41,"e":-1.68},{"b":"W13","k":3.6,"e":-1.83},{"b":"W13","k":3.77,"e":-1.72},
{"b":"W14","k":2.89,"e":-1.78},{"b":"W14","k":3.06,"e":-1.78},{"b":"W14","k":3.24,"e":-1.85},{"b":"W14","k":3.41,"e":-1.95},{"b":"W14","k":3.6,"e":-1.95},{"b":"W14","k":3.77,"e":-2.02},
{"b":"W15","k":2.89,"e":-1.86},{"b":"W15","k":3.06,"e":-1.85},{"b":"W15","k":3.24,"e":-1.73},{"b":"W15","k":3.41,"e":-1.87},{"b":"W15","k":3.6,"e":-1.99},{"b":"W15","k":3.77,"e":-2.02},
{"b":"W16","k":2.89,"e":-1.91},{"b":"W16","k":3.06,"e":-1.93},{"b":"W16","k":3.24,"e":-2.02},{"b":"W16","k":3.41,"e":-2.04},{"b":"W16","k":3.6,"e":-2.08},{"b":"W16","k":3.77,"e":-2.1},
{"b":"X1","k":3.77,"e":-0.46},{"b":"X1","k":3.98,"e":-0.56},{"b":"X1","k":4.19,"e":-0.8},{"b":"X1","k":4.4,"e":-0.97},{"b":"X1","k":4.61,"e":-1.02},
{"b":"X2","k":3.77,"e":-1.0},{"b":"X2","k":3.98,"e":-1.06},{"b":"X2","k":4.19,"e":-1.07},{"b":"X2","k":4.4,"e":-1.1},{"b":"X2","k":4.61,"e":-1.08},
{"b":"X3","k":3.77,"e":-1.26},{"b":"X3","k":3.98,"e":-1.18},{"b":"X3","k":4.19,"e":-1.22},{"b":"X3","k":4.4,"e":-1.34},{"b":"X3","k":4.61,"e":-1.45},
{"b":"X4","k":3.77,"e":-1.37},{"b":"X4","k":3.98,"e":-1.38},{"b":"X4","k":4.19,"e":-1.3},{"b":"X4","k":4.4,"e":-1.49},{"b":"X4","k":4.61,"e":-1.49},
{"b":"X5","k":3.77,"e":-1.72},{"b":"X5","k":3.98,"e":-1.62},{"b":"X5","k":4.19,"e":-1.62},{"b":"X5","k":4.4,"e":-1.53},{"b":"X5","k":4.61,"e":-1.49},
{"b":"X6","k":3.77,"e":-1.72},{"b":"X6","k":3.98,"e":-1.81},{"b":"X6","k":4.19,"e":-1.93},{"b":"X6","k":4.4,"e":-1.79},{"b":"X6","k":4.61,"e":-1.83},
{"b":"X7","k":3.77,"e":-1.37},{"b":"X7","k":3.98,"e":-1.53},{"b":"X7","k":4.19,"e":-1.56},{"b":"X7","k":4.4,"e":-1.66},{"b":"X7","k":4.61,"e":-1.67},
{"b":"X8","k":3.77,"e":-2.02},{"b":"X8","k":3.98,"e":-1.99},{"b":"X8","k":4.19,"e":-2.04},{"b":"X8","k":4.4,"e":-2.0},{"b":"X8","k":4.61,"e":-2.02},
{"b":"Y1","k":4.61,"e":-1.02},{"b":"Y1","k":4.81,"e":-0.97},{"b":"Y1","k":5.01,"e":-0.95},{"b":"Y1","k":5.2,"e":-0.97},
{"b":"Y2","k":4.61,"e":-1.08},{"b":"Y2","k":4.81,"e":-1.03},{"b":"Y2","k":5.01,"e":-0.97},{"b":"Y2","k":5.2,"e":-0.97},
{"b":"Y3","k":4.61,"e":-1.45},{"b":"Y3","k":4.81,"e":-1.48},{"b":"Y3","k":5.01,"e":-1.23},{"b":"Y3","k":5.2,"e":-1.16},
{"b":"Y4","k":4.61,"e":-1.49},{"b":"Y4","k":4.81,"e":-1.49},{"b":"Y4","k":5.01,"e":-1.26},{"b":"Y4","k":5.2,"e":-1.16},
{"b":"Y5","k":4.61,"e":-1.67},{"b":"Y5","k":4.81,"e":-1.72},{"b":"Y5","k":5.01,"e":-1.83},{"b":"Y5","k":5.2,"e":-1.93},
{"b":"Y6","k":4.61,"e":-1.83},{"b":"Y6","k":4.81,"e":-1.72},{"b":"Y6","k":5.01,"e":-2.02},{"b":"Y6","k":5.2,"e":-2.1},
{"b":"Z1","k":5.2,"e":-0.97},{"b":"Z1","k":5.42,"e":-0.87},{"b":"Z1","k":5.63,"e":-0.86},{"b":"Z1","k":5.85,"e":-0.89},{"b":"Z1","k":6.06,"e":-0.89},
{"b":"Z2","k":5.2,"e":-1.16},{"b":"Z2","k":5.42,"e":-1.31},{"b":"Z2","k":5.63,"e":-1.32},{"b":"Z2","k":5.85,"e":-1.23},{"b":"Z2","k":6.06,"e":-1.23},
{"b":"Z3","k":5.2,"e":-1.93},{"b":"Z3","k":5.42,"e":-1.88},{"b":"Z3","k":5.63,"e":-1.92},{"b":"Z3","k":5.85,"e":-1.84},{"b":"Z3","k":6.06,"e":-1.79},
{"b":"T1","k":6.06,"e":-0.89},{"b":"T1","k":6.25,"e":-0.76},{"b":"T1","k":6.45,"e":-0.54},{"b":"T1","k":6.64,"e":-0.46},
{"b":"T2","k":6.06,"e":-0.89},{"b":"T2","k":6.25,"e":-0.89},{"b":"T2","k":6.45,"e":-0.94},{"b":"T2","k":6.64,"e":-1.0},
{"b":"T3","k":6.06,"e":-1.23},{"b":"T3","k":6.25,"e":-1.26},{"b":"T3","k":6.45,"e":-1.34},{"b":"T3","k":6.64,"e":-1.28},
{"b":"T4","k":6.06,"e":-1.23},{"b":"T4","k":6.25,"e":-1.37},{"b":"T4","k":6.45,"e":-1.43},{"b":"T4","k":6.64,"e":-1.38},
{"b":"T5","k":6.06,"e":-1.79},{"b":"T5","k":6.25,"e":-1.7},{"b":"T5","k":6.45,"e":-1.58},{"b":"T5","k":6.64,"e":-1.73},
{"b":"T6","k":6.06,"e":-1.79},{"b":"T6","k":6.25,"e":-1.74},{"b":"T6","k":6.45,"e":-1.71},{"b":"T6","k":6.64,"e":-1.73}
]},
"layer": [
{"data": {"name": "bands"},
 "mark": {"type": "line", "color": "black", "strokeWidth": 2, "clip": true},
 "encoding": {
  "x": {"field": "k", "type": "quantitative",
   "scale": {"domain": [0, 6.64], "nice": false, "zero": false},
   "axis": {"values": [0, 0.86, 1.44, 2.3, 2.89, 3.77, 4.61, 5.2, 6.06, 6.64],
    "labelExpr": "datum.value < 0.4 ? 'G' : datum.value < 1.1 ? 'X' : datum.value < 1.8 ? 'S' : datum.value < 2.6 ? 'Y' : datum.value < 3.3 ? 'G' : datum.value < 4.2 ? 'Z' : datum.value < 4.9 ? 'U' : datum.value < 5.6 ? 'R' : datum.value < 6.3 ? 'T' : 'Z'",
    "title": null, "ticks": false, "tickSize": 0, "domain": false,
    "grid": true, "gridColor": "black", "gridWidth": 2, "gridOpacity": 1,
    "labelFont": "Liberation Sans", "labelFontSize": 26, "labelColor": "black",
    "labelPadding": 13, "labelFlush": false, "labelOverlap": false, "labelBound": false}},
  "y": {"field": "e", "type": "quantitative",
   "scale": {"domain": [-2.03, 4.07], "nice": false, "zero": false},
   "axis": {"title": "Energy, eV", "labels": false, "ticks": false, "domain": false, "grid": false,
    "titleFont": "Liberation Sans", "titleFontSize": 23, "titleFontWeight": "normal", "titleColor": "black", "titlePadding": 34}},
  "detail": {"field": "b", "type": "nominal"}
 }},
{"data": {"values": [{}]},
 "mark": {"type": "rule", "color": "#333333", "strokeWidth": 2, "strokeDash": [10, 7]},
 "encoding": {"y": {"datum": 0}}},
{"data": {"values": [{}]},
 "mark": {"type": "rule", "color": "red", "strokeWidth": 2},
 "encoding": {"x": {"datum": 0.86}, "y": {"datum": -0.01}, "y2": {"datum": 1.38}}},
{"data": {"values": [{}]},
 "mark": {"type": "rule", "color": "red", "strokeWidth": 2},
 "encoding": {"x": {"datum": 0.01}, "y": {"datum": 0.01}, "x2": {"datum": 0.84}, "y2": {"datum": 1.37}}},
{"data": {"values": [{}]},
 "mark": {"type": "point", "shape": "M0,0L-0.4,1L0.4,1Z", "filled": true, "color": "red", "opacity": 1, "size": 1400, "angle": 0, "strokeWidth": 0},
 "encoding": {"x": {"datum": 0.86}, "y": {"datum": 1.402}}},
{"data": {"values": [{}]},
 "mark": {"type": "point", "shape": "M0,0L-0.4,1L0.4,1Z", "filled": true, "color": "red", "opacity": 1, "size": 1400, "angle": 180, "strokeWidth": 0},
 "encoding": {"x": {"datum": 0.86}, "y": {"datum": -0.01}}},
{"data": {"values": [{}]},
 "mark": {"type": "point", "shape": "M0,0L-0.4,1L0.4,1Z", "filled": true, "color": "red", "opacity": 1, "size": 1400, "angle": 215, "strokeWidth": 0},
 "encoding": {"x": {"datum": 0.005}, "y": {"datum": 0.0}}},
{"data": {"values": [{}]},
 "mark": {"type": "text", "text": "1.361", "color": "red", "font": "Liberation Sans", "fontSize": 26, "align": "center", "baseline": "middle"},
 "encoding": {"x": {"datum": 0.38}, "y": {"datum": 1.31}}},
{"data": {"values": [{}]},
 "mark": {"type": "text", "text": "1.402", "color": "red", "font": "Liberation Sans", "fontSize": 26, "align": "center", "baseline": "middle"},
 "encoding": {"x": {"datum": 1.37}, "y": {"datum": 0.74}}}
]
}
